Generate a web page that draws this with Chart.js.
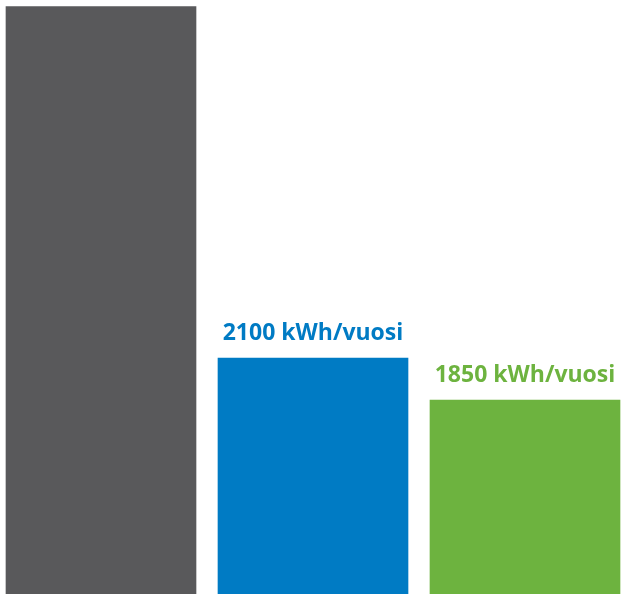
<!DOCTYPE html>
<html lang="fi">
<head>
    <meta charset="UTF-8">
    <title>Energiankulutus</title>
    <script src="https://cdn.jsdelivr.net/npm/chart.js"></script>
    <style>
        html, body { margin: 0; padding: 0; background: #fff; }
        .chart-container { width: 621px; height: 594px; }
    </style>
</head>
<body>
    <div class="chart-container">
        <canvas id="energyChart"></canvas>
    </div>

    <script>
        const categories = ['Vanha', 'Uusi', 'Uusi + säästö'];
        const values = [4185, 2100, 1850];
        const valueLabels = ['', '2100 kWh/vuosi', '1850 kWh/vuosi'];
        const barColors = ['#59595b', '#007bc4', '#6db33f'];

        // draws the kWh text above each bar
        const barLabels = {
            id: 'barLabels',
            afterDatasetsDraw(chart) {
                const ctx = chart.ctx;
                const meta = chart.getDatasetMeta(0);
                ctx.save();
                ctx.font = 'bold 23px "Open Sans", sans-serif';
                ctx.textAlign = 'center';
                ctx.textBaseline = 'alphabetic';
                meta.data.forEach((bar, i) => {
                    if (!valueLabels[i]) return;
                    ctx.fillStyle = barColors[i];
                    ctx.fillText(valueLabels[i], bar.x, bar.y - 18);
                });
                ctx.restore();
            }
        };

        new Chart(document.getElementById('energyChart'), {
            type: 'bar',
            data: {
                labels: categories,
                datasets: [{
                    data: values,
                    backgroundColor: barColors,
                    barThickness: 190,
                    clip: false
                }]
            },
            options: {
                responsive: true,
                maintainAspectRatio: false,
                animation: false,
                layout: { padding: { left: 101, right: 96, top: 0, bottom: 0 } },
                scales: {
                    x: { display: false, offset: false },
                    y: { display: false, min: 700, max: 4224 }
                },
                plugins: {
                    legend: { display: false },
                    tooltip: { enabled: false }
                }
            },
            plugins: [barLabels]
        });
    </script>
</body>
</html>
